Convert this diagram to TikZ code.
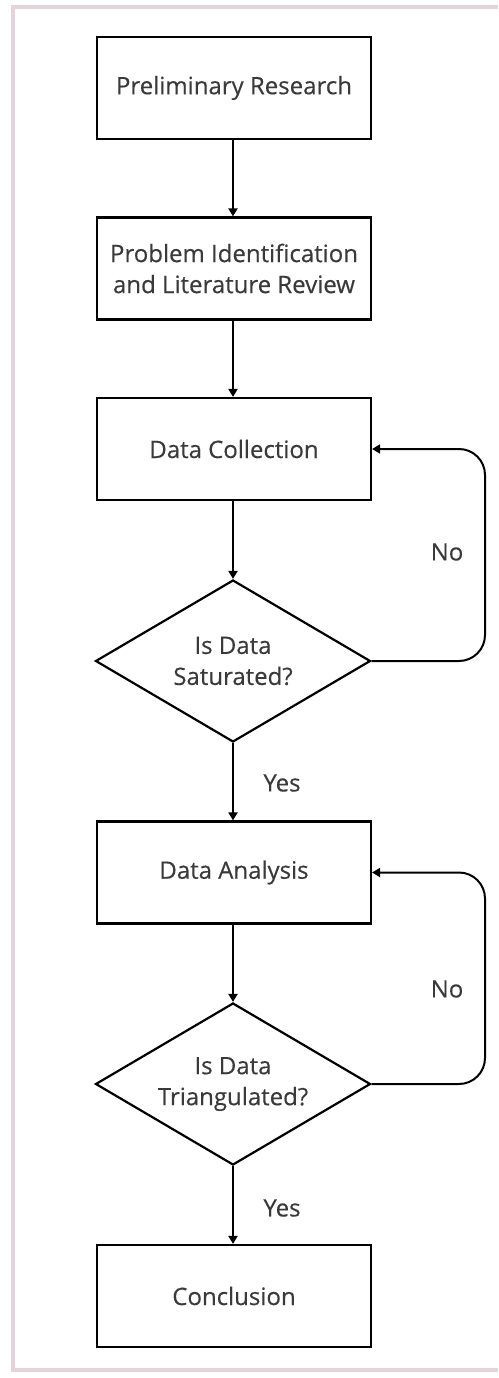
\documentclass[tikz,border=0pt]{standalone}
\usepackage{fontspec}
\setmainfont{Open Sans}
\newfontfamily\medfont{Open Sans}[FakeBold=0.3]
\usetikzlibrary{shapes.geometric,arrows.meta}
\definecolor{txt}{HTML}{3A3A3A}
\definecolor{frame}{HTML}{E6D2DA}
\tikzset{
  stepbox/.style={draw=black, line width=2.2pt, rectangle, minimum width=274pt, minimum height=102pt,
    inner sep=0pt, align=center, text=txt, font=\medfont\fontsize{24}{31}\selectfont},
  decision/.style={draw=black, line width=2.2pt, diamond, shape aspect=1.7, minimum width=275pt,
    minimum height=162pt, inner sep=0pt, align=center, text=txt, font=\medfont\fontsize{24}{31}\selectfont},
  flow/.style={line width=2pt, -{Triangle[length=8pt,width=9pt]}},
  lbl/.style={text=txt, font=\medfont\fontsize{24}{31}\selectfont, inner sep=0pt},
}
\begin{document}
\begin{tikzpicture}[x=1pt,y=-1pt]
\useasboundingbox (0,0) rectangle (498,1378);
\fill[white] (0,0) rectangle (498,1378);
\draw[frame, line width=4pt] (498,7) -- (12.5,7) -- (12.5,1370) -- (498,1370);

\node[stepbox] (b1) at (234,88) {Preliminary Research};
\node[stepbox] (b2) at (234,268.5) {Problem Identification\\and Literature Review};
\node[stepbox] (b3) at (234,449) {Data Collection};
\node[decision] (d1) at (233,661) {Is Data\\Saturated?};
\node[stepbox] (b4) at (234,872.5) {Data Analysis};
\node[decision] (d2) at (233,1084) {Is Data\\Triangulated?};
\node[stepbox] (b5) at (234,1296) {Conclusion};

\coordinate (r1) at (485,661);
\coordinate (r2) at (485,1084);

\draw[flow] (b1.south -| 233,0) -- (b2.north -| 233,0);
\draw[flow] (b2.south -| 233,0) -- (b3.north -| 233,0);
\draw[flow] (b3.south -| 233,0) -- (d1.north);
\draw[flow] (d1.south) -- (b4.north -| 233,0);
\draw[flow] (b4.south -| 233,0) -- (d2.north);
\draw[flow] (d2.south) -- (b5.north -| 233,0);
\draw[flow, rounded corners=26pt] (d1.east) -- (r1) |- (b3.east);
\draw[flow, rounded corners=26pt] (d2.east) -- (r2) |- (b4.east);

\node[lbl] (no1) at (447,552) {No};
\node[lbl] (yes1) at (282,783) {Yes};
\node[lbl] (no2) at (447,989) {No};
\node[lbl] (yes2) at (282,1208) {Yes};
\end{tikzpicture}
\end{document}
